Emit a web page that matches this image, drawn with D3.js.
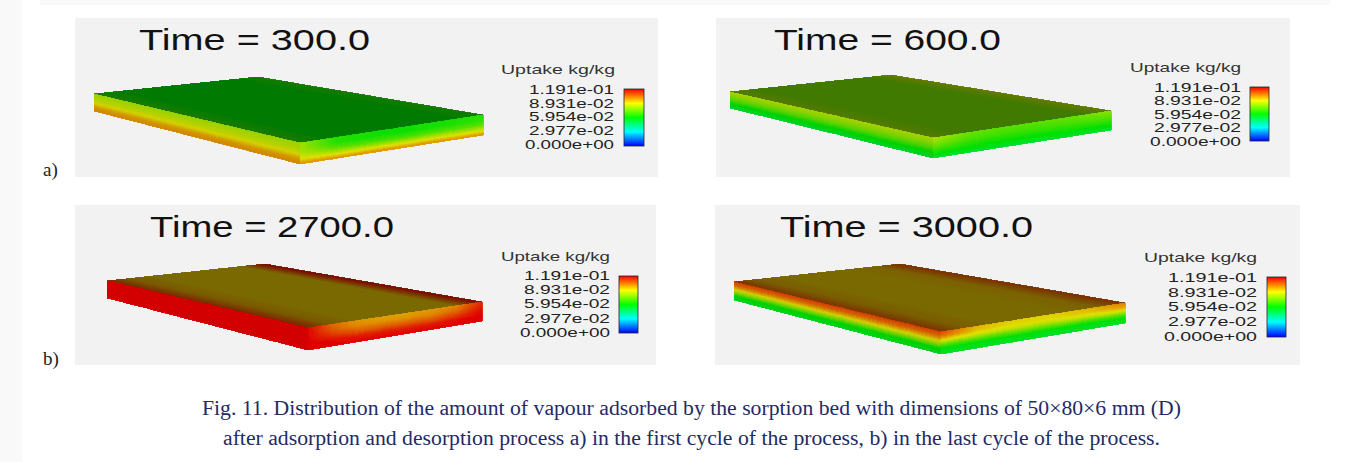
<!DOCTYPE html>
<html>
<head>
<meta charset="utf-8">
<script src="https://cdn.jsdelivr.net/npm/d3@7"></script>
<style>
html, body { margin: 0; padding: 0; background: #fff; }
svg { display: block; }
</style>
</head>
<body>
<script>
// values
var times = ["300.0", "600.0", "2700.0", "3000.0"];
var legendTitle = "Uptake kg/kg";
var legendValues = [1, 0.75, 0.5, 0.25, 0];
var legendLabels = ["1.191e-01", "8.931e-02", "5.954e-02", "2.977e-02", "0.000e+00"];
var rowLabels = ["a)", "b)"];
var caption = [
	"Fig. 11. Distribution of the amount of vapour adsorbed by the sorption bed with dimensions of 50\u00d780\u00d76 mm (D)",
	"after adsorption and desorption process a) in the first cycle of the process, b) in the last cycle of the process."
];

// uptake as a share of the top of the scale (1.191e-01)
// top face: stations across the short side of the bed
var topUptake = [
	[0.56, 0.51, 0.50, 0.50, 0.50, 0.50, 0.50, 0.54],
	[0.68, 0.64, 0.63, 0.63, 0.63, 0.63, 0.63, 0.70],
	[0.93, 0.82, 0.79, 0.79, 0.79, 0.79, 0.79, 0.98],
	[0.90, 0.81, 0.79, 0.79, 0.79, 0.79, 0.80, 0.90]
];
// long front face: rows top to bottom, columns left to right
var longUptake = [
	[[0.68, 0.68], [0.70, 0.70], [0.72, 0.72], [0.76, 0.76], [0.82, 0.82], [0.84, 0.84]],
	[[0.70, 0.70], [0.66, 0.66], [0.60, 0.60], [0.50, 0.50], [0.45, 0.45]],
	[[1.00, 1.00], [1.00, 1.00], [1.00, 1.00], [1.00, 1.00], [1.00, 1.00]],
	[[0.93, 0.93], [0.88, 0.88], [0.78, 0.78], [0.65, 0.65], [0.50, 0.50], [0.47, 0.47]]
];
// short front face: rows top to bottom, columns front corner to right corner
var shortUptake = [
	[[0.68, 0.54, 0.52, 0.52, 0.53, 0.54], [0.68, 0.54, 0.52, 0.52, 0.53, 0.55], [0.70, 0.60, 0.58, 0.58, 0.59, 0.60], [0.74, 0.72, 0.72, 0.72, 0.72, 0.72], [0.84, 0.84, 0.84, 0.84, 0.84, 0.84]],
	[[0.70, 0.62, 0.60, 0.60, 0.62, 0.66], [0.64, 0.58, 0.57, 0.57, 0.58, 0.60], [0.55, 0.52, 0.51, 0.51, 0.52, 0.53], [0.45, 0.45, 0.45, 0.45, 0.45, 0.45]],
	[[1.00, 0.88, 0.83, 0.82, 0.82, 0.83, 0.85, 0.95], [1.00, 0.90, 0.85, 0.84, 0.84, 0.85, 0.88, 0.97], [1.00, 0.94, 0.90, 0.90, 0.90, 0.90, 0.93, 0.99], [1.00, 0.99, 0.97, 0.97, 0.97, 0.97, 0.99, 1.00], [1.00, 1.00, 1.00, 1.00, 1.00, 1.00, 1.00, 1.00]],
	[[0.92, 0.80, 0.77, 0.77, 0.80, 0.86], [0.88, 0.78, 0.76, 0.76, 0.78, 0.82], [0.76, 0.72, 0.70, 0.70, 0.72, 0.74], [0.60, 0.58, 0.58, 0.58, 0.58, 0.60], [0.48, 0.48, 0.48, 0.48, 0.48, 0.48], [0.46, 0.46, 0.46, 0.46, 0.46, 0.46]]
];

// page layout, one entry per picture
var panels = [
	{ bg: [75, 18, 658, 177], back: [258, 77], left: [94, 94, 111], right: [483, 115, 135], front: [300, 143, 164],
		title: [139, 50, 231], legTitle: [501, 74, 114], legX: 614, legY: [89, 144], bar: [624, 89, 644, 146], wide: 89 },
	{ bg: [716, 18, 1290, 177], back: [891, 75], left: [730, 92, 108], right: [1111, 111, 130], front: [933, 138, 158],
		title: [774, 50, 227], legTitle: [1130, 72, 111], legX: 1241, legY: [87, 141], bar: [1250, 87, 1269, 141], wide: 91 },
	{ bg: [75, 205, 656, 365], back: [265, 264], left: [107, 281, 298], right: [482, 302, 321], front: [308, 328, 350],
		title: [150, 237, 244], legTitle: [501, 261, 109], legX: 610, legY: [275, 332], bar: [619, 276, 638, 333], wide: 90 },
	{ bg: [715, 205, 1300, 365], back: [900, 264], left: [734, 282, 300], right: [1125, 303, 323], front: [941, 332, 354],
		title: [780, 237, 253], legTitle: [1144, 262, 113], legX: 1257, legY: [277, 336], bar: [1267, 277, 1286, 337], wide: 93 }
];

var width = 1346, height = 462;

var rainbow = d3.scaleLinear()
	.domain([0, 0.25, 0.5, 0.75, 1])
	.range(["#0000ff", "#00ffff", "#00ff00", "#ffff00", "#ff0000"])
	.clamp(true);

var svg = d3.select("body").append("svg")
	.attr("width", width)
	.attr("height", height)
	.attr("font-family", "'Liberation Sans', Arial, sans-serif");

var defs = svg.append("defs");
defs.append("filter").attr("id", "soft").append("feGaussianBlur").attr("stdDeviation", 0.6);

// faint page shadow at the edge of the original scan
svg.append("rect").attr("x", 0).attr("y", 0).attr("width", 22).attr("height", height).attr("fill", "#f9f9f9");
svg.append("rect").attr("x", 40).attr("y", 0).attr("width", 1290).attr("height", 5).attr("fill", "#f9f9f9");

// value at (u, v) of a face, u and v both 0..1
function faceValue(grid, u, v) {
	var r = v * (grid.length - 1), c = u * (grid[0].length - 1);
	var r0 = Math.min(Math.floor(r), grid.length - 2), c0 = Math.min(Math.floor(c), grid[0].length - 2);
	var across = d3.scaleLinear().domain([r0, r0 + 1]).range([
		d3.scaleLinear().domain([c0, c0 + 1]).range([grid[r0][c0], grid[r0][c0 + 1]])(c),
		d3.scaleLinear().domain([c0, c0 + 1]).range([grid[r0 + 1][c0], grid[r0 + 1][c0 + 1]])(c)
	]);
	return across(r);
}

function shaded(value, shade) {
	var c = d3.rgb(rainbow(value));
	return d3.rgb(c.r * shade, c.g * shade, c.b * shade).formatHex();
}

// draws one face of the bed as small quads, corners are [tl, tr, br, bl]
function drawFace(g, corners, grid, shade, nu, nv) {
	var u = d3.scaleLinear().domain([0, nu]).range([0, 1]);
	var v = d3.scaleLinear().domain([0, nv]).range([0, 1]);
	function pt(a, b) {
		var tx = corners[0][0] + (corners[1][0] - corners[0][0]) * a, ty = corners[0][1] + (corners[1][1] - corners[0][1]) * a;
		var bx = corners[3][0] + (corners[2][0] - corners[3][0]) * a, by = corners[3][1] + (corners[2][1] - corners[3][1]) * a;
		return [tx + (bx - tx) * b, ty + (by - ty) * b];
	}
	var cells = [];
	d3.range(nu).forEach(function(i) {
		d3.range(nv).forEach(function(j) {
			cells.push({ i: i, j: j, value: faceValue(grid, u(i + 0.5), v(j + 0.5)) });
		});
	});
	g.selectAll(null)
		.data(cells)
		.enter().append("polygon")
		.attr("points", function(d) {
			return [pt(u(d.i), v(d.j)), pt(u(d.i + 1), v(d.j)), pt(u(d.i + 1), v(d.j + 1)), pt(u(d.i), v(d.j + 1))].join(" ");
		})
		.attr("fill", function(d) { return shaded(d.value, shade); })
		.attr("stroke", function(d) { return shaded(d.value, shade); })
		.attr("stroke-width", 0.9)
		.attr("shape-rendering", "crispEdges");
}

panels.forEach(function(p, k) {
	var g = svg.append("g");

	g.append("rect")
		.attr("x", p.bg[0])
		.attr("y", p.bg[1])
		.attr("width", p.bg[2] - p.bg[0])
		.attr("height", p.bg[3] - p.bg[1])
		.attr("fill", "#f2f2f2");

	g.append("text")
		.attr("x", p.title[0])
		.attr("y", p.title[1])
		.attr("textLength", p.title[2])
		.attr("lengthAdjust", "spacingAndGlyphs")
		.attr("font-size", 30)
		.attr("fill", "#111")
		.text("Time = " + times[k]);

	var bed = g.append("g").attr("filter", "url(#soft)");
	var tl = [p.left[0], p.left[1]], tb = p.back, tr = [p.right[0], p.right[1]], tf = [p.front[0], p.front[1]];
	var bl = [p.left[0], p.left[2]], br = [p.right[0], p.right[2]], bf = [p.front[0], p.front[2]];

	drawFace(bed, [tl, tb, tr, tf], [topUptake[k], topUptake[k]], 0.48, 90, 1);
	drawFace(bed, [tl, tf, bf, bl], longUptake[k], 0.82, 30, 22);
	drawFace(bed, [tf, tr, br, bf], shortUptake[k], 0.88, 90, 22);

	// legend
	g.append("text")
		.attr("x", p.legTitle[0])
		.attr("y", p.legTitle[1])
		.attr("textLength", p.legTitle[2])
		.attr("lengthAdjust", "spacingAndGlyphs")
		.attr("font-size", 13.5)
		.attr("fill", "#333")
		.text(legendTitle);

	var gradId = "bar" + k;
	var grad = defs.append("linearGradient").attr("id", gradId).attr("x1", 0).attr("x2", 0).attr("y1", 1).attr("y2", 0);
	rainbow.domain().forEach(function(d) {
		grad.append("stop").attr("offset", d).attr("stop-color", rainbow(d));
	});
	g.append("rect")
		.attr("x", p.bar[0])
		.attr("y", p.bar[1])
		.attr("width", p.bar[2] - p.bar[0])
		.attr("height", p.bar[3] - p.bar[1])
		.attr("fill", "url(#" + gradId + ")")
		.attr("stroke", "#223")
		.attr("stroke-width", 0.8);

	var legScale = d3.scaleLinear().domain([0, 1]).range([p.legY[1], p.legY[0]]);
	var axis = g.append("g")
		.attr("transform", "translate(" + (p.legX + 3) + ",0)")
		.call(d3.axisLeft(legScale)
			.tickValues(legendValues)
			.tickSize(0)
			.tickFormat(function(d, i) { return legendLabels[i]; }));
	axis.select(".domain").remove();
	axis.selectAll("text")
		.attr("font-size", 13.5)
		.attr("font-family", "'Liberation Sans', Arial, sans-serif")
		.attr("fill", "#222")
		.attr("textLength", function(d, i) { return i == 4 ? p.wide : p.wide - 4; })
		.attr("lengthAdjust", "spacingAndGlyphs");
});

svg.selectAll(".rowLabel")
	.data(rowLabels)
	.enter().append("text")
	.attr("class", "rowLabel")
	.attr("x", 43)
	.attr("y", function(d, i) { return i == 0 ? 176 : 365; })
	.attr("font-family", "'Liberation Serif', 'Times New Roman', serif")
	.attr("font-size", 19)
	.attr("fill", "#222")
	.text(function(d) { return d; });

svg.selectAll(".caption")
	.data(caption)
	.enter().append("text")
	.attr("class", "caption")
	.attr("x", 691.5)
	.attr("y", function(d, i) { return i == 0 ? 414.5 : 444.5; })
	.attr("text-anchor", "middle")
	.attr("textLength", function(d, i) { return i == 0 ? 979 : 937; })
	.attr("lengthAdjust", "spacingAndGlyphs")
	.attr("font-family", "'Liberation Serif', 'Times New Roman', serif")
	.attr("font-size", 20)
	.attr("fill", "#232b66")
	.text(function(d) { return d; });
</script>
</body>
</html>
